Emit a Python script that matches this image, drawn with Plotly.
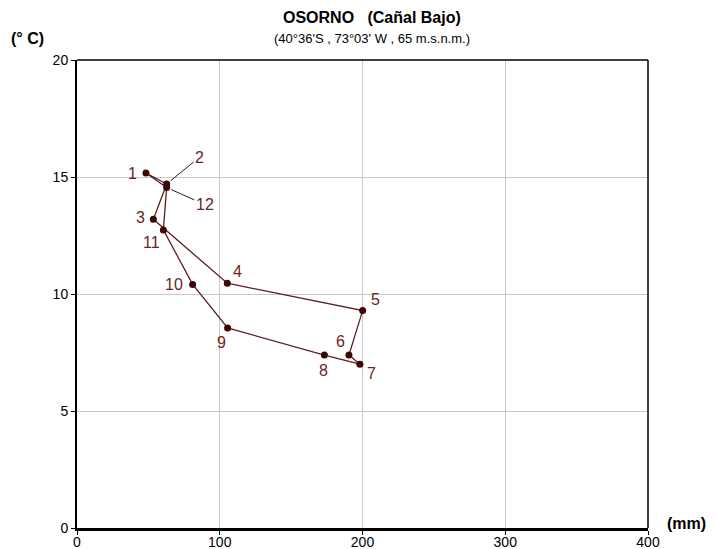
import plotly.graph_objects as go

months = ["1", "2", "3", "4", "5", "6", "7", "8", "9", "10", "11", "12"]
precip_mm = [48.3, 62.8, 53.5, 105.3, 200.1, 190.5, 198.2, 173.3, 105.5, 81.0, 60.5, 62.8]
temp_c = [15.17, 14.70, 13.19, 10.46, 9.29, 7.39, 7.00, 7.39, 8.55, 10.41, 12.74, 14.55]
x_ticks = [0, 100, 200, 300, 400]
y_ticks = [0, 5, 10, 15, 20]

# label offsets in pixels (xshift, yshift); leader-line labels separately
label_shift = {
    "1": (-13, 0), "3": (-13, 2), "4": (10, 12), "5": (13, 11), "6": (-8, 14),
    "7": (12, -9), "8": (-1, -15), "9": (-6, -15), "10": (-19, 0), "11": (-12, -13),
}
leader = {"2": (33, -27), "12": (38, 17)}

line_color = "#5c1f1f"
marker_color = "#3a0505"
label_color = "#6b2323"
font_fam = "Liberation Sans, Arial, sans-serif"

fig = go.Figure()
fig.add_trace(go.Scatter(
    x=precip_mm + [precip_mm[0]], y=temp_c + [temp_c[0]],
    mode="lines", line=dict(color=line_color, width=1.3), hoverinfo="skip",
))
fig.add_trace(go.Scatter(
    x=precip_mm, y=temp_c, mode="markers",
    marker=dict(color=marker_color, size=7), text=months,
))

annotations = []
for m, px, ty in zip(months, precip_mm, temp_c):
    if m in leader:
        ax, ay = leader[m]
        annotations.append(dict(
            x=px, y=ty, text=m, showarrow=True, arrowhead=0, arrowwidth=1,
            arrowcolor="#202020", ax=ax, ay=ay, standoff=5,
            font=dict(size=16, color=label_color, family=font_fam),
        ))
    else:
        dx, dy = label_shift[m]
        annotations.append(dict(
            x=px, y=ty, text=m, showarrow=False, xshift=dx, yshift=dy,
            font=dict(size=16, color=label_color, family=font_fam),
        ))

annotations += [
    dict(text="<b>OSORNO   (Cañal Bajo)</b>", xref="paper", yref="paper", x=0.516, y=1.0,
         yanchor="middle", yshift=43, showarrow=False,
         font=dict(size=16, color="black", family=font_fam)),
    dict(text="(40°36'S , 73°03' W , 65 m.s.n.m.)", xref="paper", yref="paper", x=0.516, y=1.0,
         yanchor="middle", yshift=22, showarrow=False,
         font=dict(size=13, color="black", family=font_fam)),
    dict(text="<b>(° C)</b>", xref="paper", yref="paper", x=0, y=1.0, xanchor="left",
         yanchor="middle", xshift=-68, yshift=22, showarrow=False,
         font=dict(size=16, color="black", family=font_fam)),
    dict(text="<b>(mm)</b>", xref="paper", yref="paper", x=1.0, y=0, xanchor="left",
         yanchor="middle", xshift=17, yshift=5, showarrow=False,
         font=dict(size=16, color="black", family=font_fam)),
]

fig.update_layout(
    width=710, height=541,
    margin=dict(l=69, r=70, t=52, b=21, autoexpand=False),
    paper_bgcolor="white", plot_bgcolor="white",
    showlegend=False,
    annotations=annotations,
    font=dict(family=font_fam, size=14, color="black"),
    xaxis=dict(range=[0, 400], tickvals=x_ticks, showgrid=True, gridcolor="#c8c8c8", gridwidth=1,
               showline=True, linecolor="black", linewidth=3, mirror=False,
               ticks="outside", ticklen=4, tickcolor="black", zeroline=False,
               ticklabelstandoff=-5, tickfont=dict(size=14)),
    yaxis=dict(range=[0, 20], tickvals=y_ticks, showgrid=True, gridcolor="#c8c8c8", gridwidth=1,
               showline=True, linecolor="black", linewidth=2, mirror=False,
               ticks="outside", ticklen=4, tickcolor="black", zeroline=False,
               tickfont=dict(size=14)),
    shapes=[
        dict(type="line", xref="paper", yref="paper", x0=0, x1=1, y0=1, y1=1,
             line=dict(color="black", width=1.5)),
        dict(type="line", xref="paper", yref="paper", x0=1, x1=1, y0=0, y1=1,
             line=dict(color="black", width=1.5)),
    ],
)

fig.write_html("out.html")
